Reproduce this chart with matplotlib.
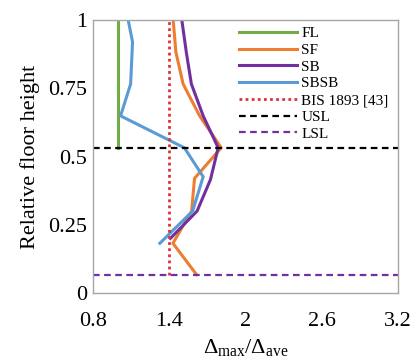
import matplotlib
matplotlib.use("Agg")
import matplotlib.pyplot as plt

plt.rcParams['font.family'] = 'Liberation Serif'
plt.rcParams['mathtext.fontset'] = 'custom'
plt.rcParams['mathtext.rm'] = 'Liberation Serif'
plt.rcParams['mathtext.it'] = 'Liberation Serif'

# relative floor heights and drift ratios per model
h_fl = [1.0, 0.883, 0.766, 0.649, 0.532]
fl = [1.0, 1.0, 1.0, 1.0, 1.0]

h_sf = [1.0, 0.883, 0.766, 0.649, 0.532, 0.42, 0.30, 0.182, 0.067]
sf = [1.432, 1.453, 1.51, 1.64, 1.81, 1.60, 1.577, 1.43, 1.616]

h_sb = [1.0, 0.883, 0.766, 0.649, 0.532, 0.415, 0.30, 0.20]
sb = [1.50, 1.535, 1.575, 1.668, 1.786, 1.725, 1.62, 1.41]

h_sbsb = [1.0, 0.92, 0.766, 0.649, 0.532, 0.426, 0.30, 0.182]
sbsb = [1.078, 1.112, 1.097, 1.018, 1.52, 1.668, 1.585, 1.327]

bis_x = [1.4, 1.4]
bis_y = [0.067, 1.0]
usl = 0.533
lsl = 0.067

xticks = [0.8, 1.4, 2.0, 2.6, 3.2]
xticklabels = ['0.8', '1.4', '2', '2.6', '3.2']
yticks = [0, 0.25, 0.5, 0.75, 1.0]
yticklabels = ['0', '0.25', '0.5', '0.75', '1']

fig = plt.figure(figsize=(4.11, 3.59), dpi=100)
ax = fig.add_axes([0.226, 0.184, 0.742, 0.760])

ax.plot(fl, h_fl, color='#70AD47', lw=2.2, label='FL')
ax.plot(sf, h_sf, color='#ED7D31', lw=2.2, label='SF')
ax.plot(sb, h_sb, color='#7030A0', lw=2.2, label='SB')
ax.plot(sbsb, h_sbsb, color='#5B9BD5', lw=2.2, label='SBSB')
ax.plot(bis_x, bis_y, color='#E0303A', lw=2.0, ls=(0, (1, 1.2)), label='BIS 1893 [43]')
ax.axhline(usl, color='black', lw=1.6, ls=(0, (3, 2)), label='USL')
ax.axhline(lsl, color='#7030A0', lw=1.6, ls=(0, (3, 2)), label='LSL')

ax.set_xlim(0.8, 3.2)
ax.set_ylim(0, 1)
ax.set_xticks(xticks)
ax.set_xticklabels(xticklabels)
ax.set_yticks(yticks)
ax.set_yticklabels(yticklabels)
ax.tick_params(length=0, labelsize=16)
ax.tick_params(axis='x', pad=14)
ax.tick_params(axis='y', pad=4)
for s in ax.spines.values():
    s.set_color('#A6A6A6')
    s.set_linewidth(1.0)

ax.set_xlabel(r'$\Delta_{\rm max}/\Delta_{\rm ave}$', fontsize=16, labelpad=4)
ax.set_ylabel('Relative floor height', fontsize=16, labelpad=6)

ax.legend(loc='upper right', bbox_to_anchor=(1.0, 1.01), frameon=False,
          fontsize=11, handlelength=3.8, handletextpad=0.3,
          labelspacing=0.2, borderaxespad=0.2)

fig.savefig('out.png', dpi=100)
